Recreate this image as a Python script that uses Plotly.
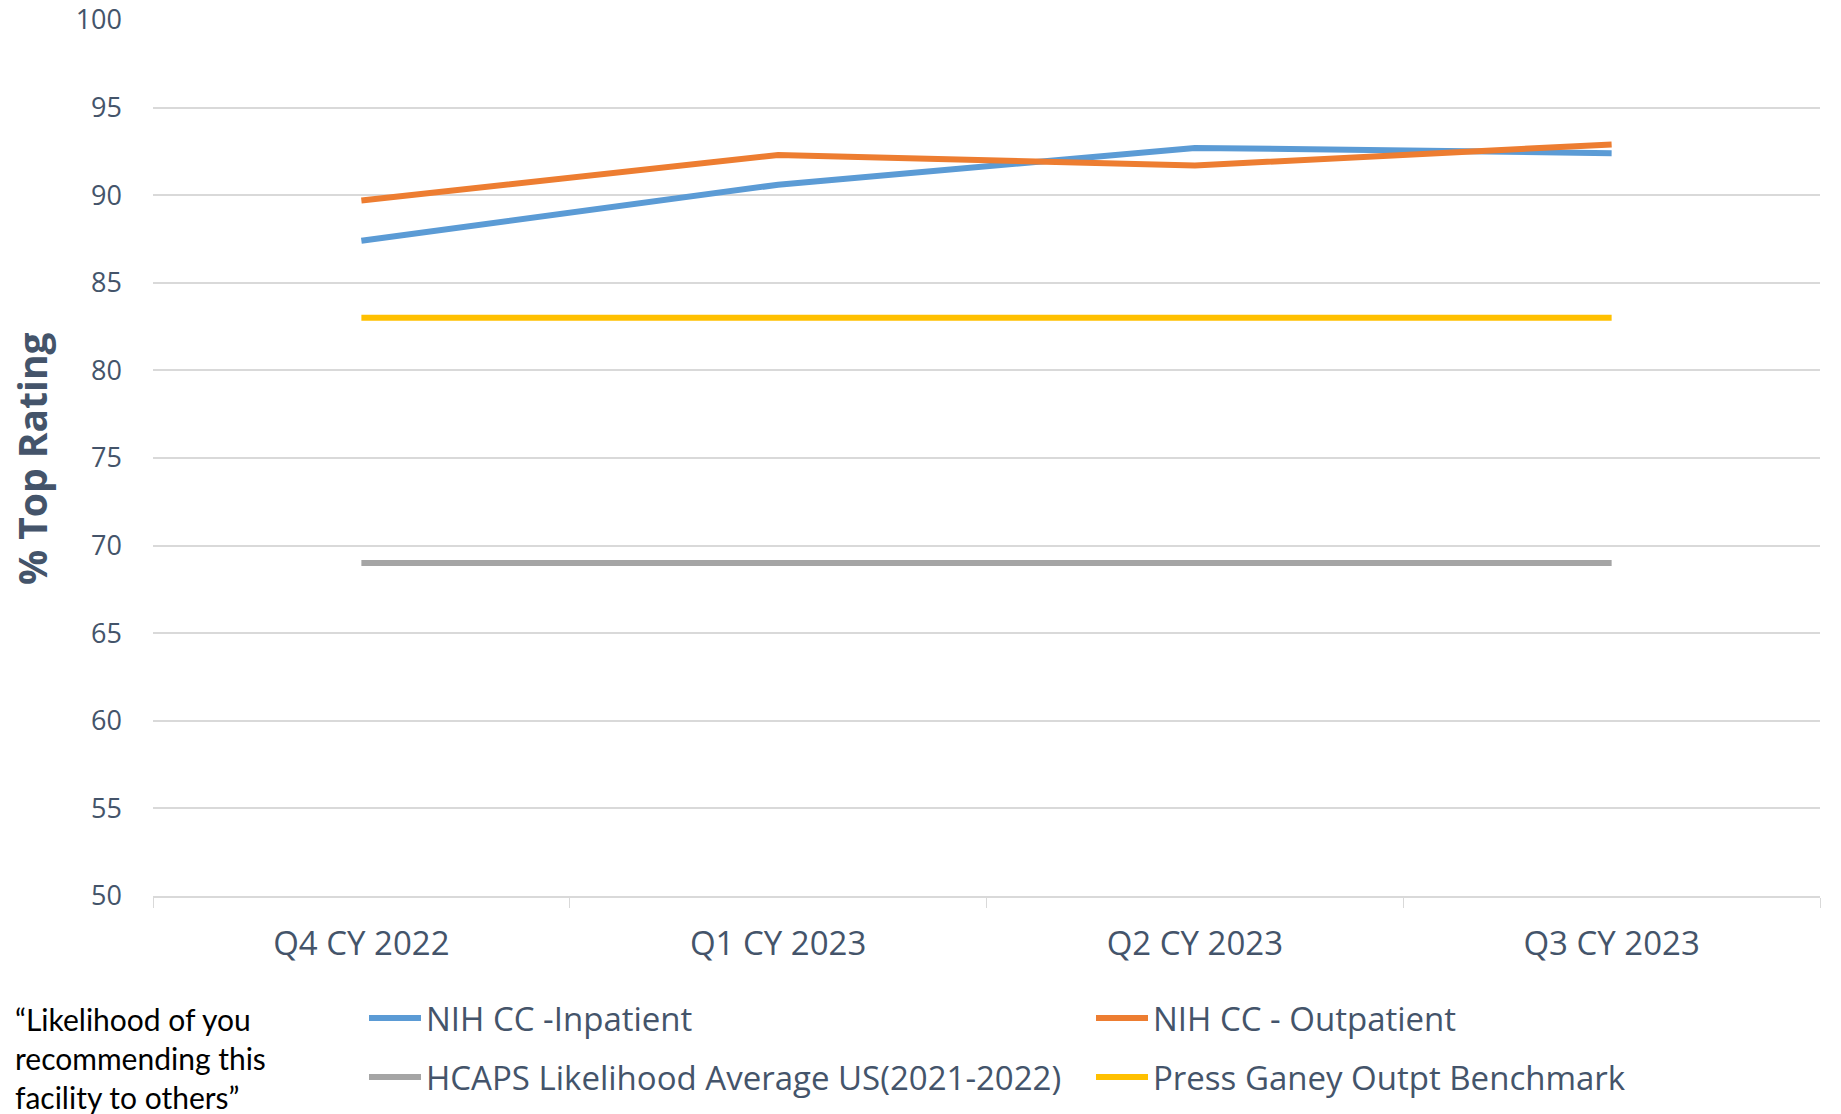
import plotly.graph_objects as go

# quarters on the x axis
quarters = ["Q4 CY 2022", "Q1 CY 2023", "Q2 CY 2023", "Q3 CY 2023"]

# % top rating per series
inpatient = [87.4, 90.6, 92.7, 92.4]
outpatient = [89.7, 92.3, 91.7, 92.9]
hcaps_avg = [69, 69, 69, 69]
press_ganey = [83, 83, 83, 83]

y_ticks = [50, 55, 60, 65, 70, 75, 80, 85, 90, 95, 100]

W, H = 1841, 1114
TEXT = "#44546A"
GRID = "#D9D9D9"
FONT = "Open Sans"

fig = go.Figure()

series = [
    ("NIH CC -Inpatient", inpatient, "#5B9BD5", "legend"),
    ("NIH CC - Outpatient", outpatient, "#ED7D31", "legend"),
    ("HCAPS Likelihood Average US(2021-2022)", hcaps_avg, "#A5A5A5", "legend2"),
    ("Press Ganey Outpt Benchmark", press_ganey, "#FFC000", "legend2"),
]
for name, vals, color, leg in series:
    fig.add_trace(go.Scatter(
        x=quarters, y=vals, name=name, mode="lines",
        line=dict(color=color, width=6),
        legend=leg,
    ))

# two horizontal legends, one per row, so the rows can be spaced freely
legend_common = dict(
    orientation="h",
    xref="container", yref="container",
    x=364 / W, xanchor="left", yanchor="middle",
    entrywidth=660, itemwidth=52,
    font=dict(family=FONT, size=33, color=TEXT),
    bgcolor="rgba(0,0,0,0)",
)

fig.update_layout(
    width=W, height=H,
    margin=dict(l=153, r=21, t=20, b=218, autoexpand=False),
    paper_bgcolor="white",
    plot_bgcolor="white",
    font=dict(family=FONT, color=TEXT),
    showlegend=True,
    legend=dict(legend_common, y=1 - 1018 / H),
    legend2=dict(legend_common, y=1 - 1077 / H),
    xaxis=dict(
        range=[-0.5, 3.5], automargin=False,
        tickson="boundaries", ticks="outside", ticklen=10, tickcolor=GRID,
        showline=True, linecolor=GRID, linewidth=1.5,
        showgrid=False,
        tickfont=dict(family=FONT, size=33, color=TEXT),
        ticklabelstandoff=18,
    ),
    yaxis=dict(
        range=[50, 100], tickvals=y_ticks, automargin=False,
        showgrid=True, gridcolor=GRID, gridwidth=1.5,
        zeroline=False, showline=False,
        tickfont=dict(family=FONT, size=27, color=TEXT),
        ticklabelstandoff=30,
    ),
)

# y axis title
fig.add_annotation(
    text="<b>% Top Rating</b>", textangle=-90,
    xref="paper", yref="paper", x=(31 - 153) / 1667, y=0.5,
    xanchor="center", yanchor="middle", showarrow=False,
    font=dict(family=FONT, size=39, color=TEXT),
)

# question note at the bottom left
fig.add_annotation(
    text="\u201cLikelihood of you<br>recommending this<br>facility to others\u201d",
    xref="paper", yref="paper", x=(13 - 153) / 1667, y=(896 - 999) / 876,
    xanchor="left", yanchor="top", align="left", showarrow=False,
    font=dict(family="Lato", size=30, color="black"),
)

fig.write_html(
    "out.html",
    config={"displayModeBar": False},
    post_script="document.body.style.margin='0';",
)
